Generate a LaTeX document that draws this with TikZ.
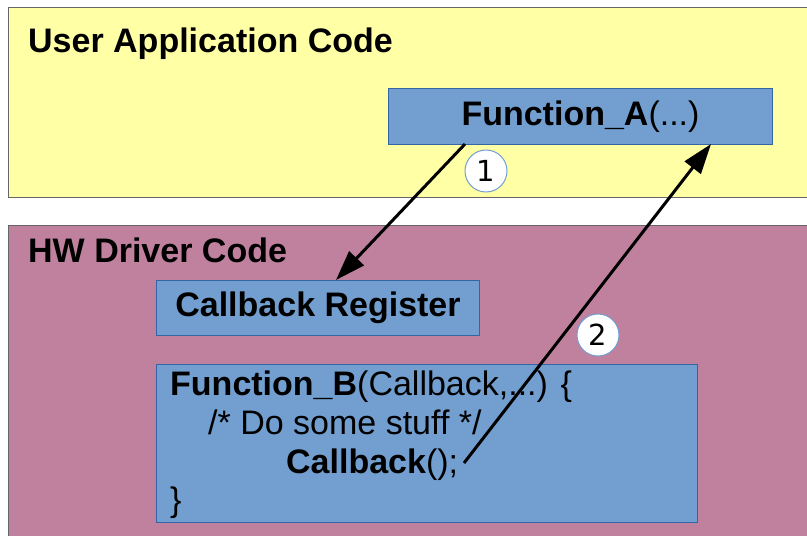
\documentclass[tikz,border=0pt]{standalone}
\usepackage{fontspec}
\setmainfont{Liberation Sans}
\newfontfamily\digitfont{DejaVu Sans}
\usetikzlibrary{arrows.meta}
\definecolor{ylw}{HTML}{FFFFA6}
\definecolor{pnk}{HTML}{BF819E}
\definecolor{blu}{HTML}{729FCF}
\definecolor{bluedge}{HTML}{3465A4}
\definecolor{paneledge}{HTML}{666666}
\begin{document}
\begin{tikzpicture}[x=1pt,y=-1pt,
  panel/.style={draw=paneledge, line width=1.3pt, anchor=north west, inner sep=0pt},
  bluebox/.style={draw=bluedge, line width=1pt, fill=blu, anchor=north west, inner sep=0pt},
  big/.style={font=\fontsize{34}{39}\selectfont, inner sep=0pt},
  numcircle/.style={circle, draw=blu, line width=1pt, fill=white, minimum size=42pt, inner sep=0pt, font=\digitfont\fontsize{29}{29}\selectfont},
  flow/.style={line width=3pt, -{Triangle[length=30pt,width=20pt]}}]
\useasboundingbox (0,0) rectangle (807,536);
\clip (0,0) rectangle (807,536);
\fill[white] (0,0) rectangle (807,536);
% panels
\node (user) [panel, fill=ylw, minimum width=830pt, minimum height=190pt] at (8,7) {};
\node (hw) [panel, fill=pnk, minimum width=830pt, minimum height=340pt] at (8,225) {};
\node (usertitle) [big, anchor=base west] at (28,52) {\bfseries User Application Code};
\node (hwtitle) [big, anchor=base west] at (28,262) {\bfseries HW Driver Code};
% boxes
\node (fa) [bluebox, minimum width=384pt, minimum height=56pt] at (388,88) {};
\node (fatext) [big] at (fa.center) {\textbf{Function\_A}(...)};
\node (cr) [bluebox, minimum width=323pt, minimum height=55pt] at (156,280) {};
\node (crtext) [big] at (cr.center) {\textbf{Callback Register}};
\node (fb) [bluebox, minimum width=541pt, minimum height=158pt] at (156,364) {};
\node (fb1) [big, anchor=base west] at (170,395) {\textbf{Function\_B}(Callback,...) \{};
\node (fb2) [big, anchor=base west] at (208,434) {/* Do some stuff */};
\node (fb3) [big, anchor=base west] at (286,473) {\textbf{Callback}();};
\node (fb4) [big, anchor=base west] at (170,511) {\}};
% connector end points
\coordinate (a1s) at (465,144);
\coordinate (a1e) at (336,280);
\coordinate (a2s) at (464,463);
\coordinate (a2e) at (711,144);
\draw[flow] (a1s) -- (a1e);
\draw[flow] (a2s) -- (a2e);
% numbers
\node (n1) [numcircle] at (486,171) {1};
\node (n2) [numcircle] at (598,335) {2};
\end{tikzpicture}
\end{document}
